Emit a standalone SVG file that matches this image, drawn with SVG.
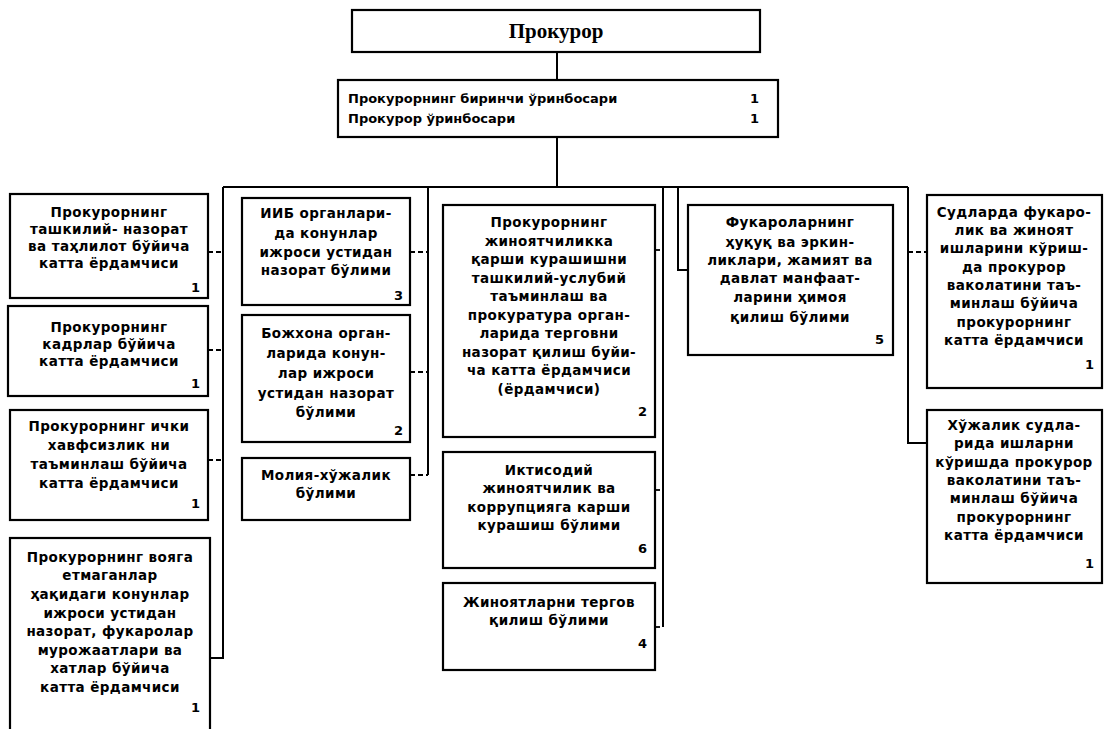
<svg xmlns="http://www.w3.org/2000/svg" width="1109" height="729" viewBox="0 0 1109 729">
<style>
.bg{fill:#fff}
.box{fill:#fff;stroke:#000;stroke-width:2.2}
.ln{fill:none;stroke:#000;stroke-width:2}
.tk{fill:none;stroke:#000;stroke-width:1.8;stroke-dasharray:5 3}
.t{font-family:"DejaVu Sans","Liberation Sans",sans-serif;font-weight:bold;font-size:13.5px;fill:#000;text-anchor:middle;letter-spacing:0.4px}
.n{font-family:"DejaVu Sans","Liberation Sans",sans-serif;font-weight:bold;font-size:13px;fill:#000;text-anchor:end}
.d{font-family:"DejaVu Sans","Liberation Sans",sans-serif;font-weight:bold;font-size:13px;fill:#000}
.title{font-family:"Liberation Serif","DejaVu Serif",serif;font-weight:bold;font-size:21px;fill:#000;text-anchor:middle}
</style>
<rect class="bg" x="0" y="0" width="1109" height="729"/>
<g id="connectors">
<line class="ln" x1="557" y1="52" x2="557" y2="80"/>
<line class="ln" x1="557" y1="137" x2="557" y2="187"/>
<line class="ln" x1="223" y1="187" x2="908" y2="187"/>
<polyline class="ln" points="223,187 223,658 208,658"/>
<line class="ln" x1="428" y1="187" x2="428" y2="475"/>
<line class="ln" x1="663" y1="187" x2="663" y2="627"/>
<polyline class="ln" points="678,187 678,270 688,270"/>
<polyline class="ln" points="908,187 908,443 927,443"/>
<line class="tk" x1="208" y1="252" x2="223" y2="252"/>
<line class="tk" x1="208" y1="350" x2="223" y2="350"/>
<line class="tk" x1="208" y1="460" x2="223" y2="460"/>
<line class="tk" x1="410" y1="252" x2="428" y2="252"/>
<line class="tk" x1="410" y1="372" x2="428" y2="372"/>
<line class="tk" x1="410" y1="475" x2="428" y2="475"/>
<line class="tk" x1="655" y1="250" x2="663" y2="250"/>
<line class="tk" x1="655" y1="490" x2="663" y2="490"/>
<line class="tk" x1="655" y1="627" x2="663" y2="627"/>
<line class="tk" x1="908" y1="252" x2="927" y2="252"/>
</g>
<g id="prokuror">
<rect class="box" x="352" y="10" width="408" height="42"/>
<text class="title" x="556" y="38">Прокурор</text>
</g>
<g id="deputies">
<rect class="box" x="338" y="80" width="440" height="57"/>
<text class="d" x="348" y="103">Прокурорнинг биринчи ўринбосари</text>
<text class="d" x="348" y="123">Прокурор ўринбосари</text>
<text class="d" x="750" y="103">1</text>
<text class="d" x="750" y="123">1</text>
</g>
<g id="l1">
<rect class="box" x="10" y="194" width="198" height="104"/>
<text class="t" x="109" y="217">Прокурорнинг</text>
<text class="t" x="109" y="234">ташкилий- назорат</text>
<text class="t" x="109" y="251">ва таҳлилот бўйича</text>
<text class="t" x="109" y="268">катта ёрдамчиси</text>
<text class="n" x="200" y="292">1</text>
</g>
<g id="l2">
<rect class="box" x="8" y="306" width="200" height="90"/>
<text class="t" x="109" y="332">Прокурорнинг</text>
<text class="t" x="109" y="349">кадрлар бўйича</text>
<text class="t" x="109" y="366">катта ёрдамчиси</text>
<text class="n" x="200" y="388">1</text>
</g>
<g id="l3">
<rect class="box" x="10" y="410" width="198" height="110"/>
<text class="t" x="109" y="431">Прокурорнинг ички</text>
<text class="t" x="109" y="450">хавфсизлик ни</text>
<text class="t" x="109" y="469">таъминлаш бўйича</text>
<text class="t" x="109" y="488">катта ёрдамчиси</text>
<text class="n" x="200" y="508">1</text>
</g>
<g id="l4">
<rect class="box" x="10" y="538" width="200" height="200"/>
<text class="t" x="110" y="562">Прокурорнинг вояга</text>
<text class="t" x="110" y="580">етмаганлар</text>
<text class="t" x="110" y="599">ҳақидаги конунлар</text>
<text class="t" x="110" y="618">ижроси устидан</text>
<text class="t" x="110" y="636">назорат, фукаролар</text>
<text class="t" x="110" y="655">мурожаатлари ва</text>
<text class="t" x="110" y="673">хатлар бўйича</text>
<text class="t" x="110" y="692">катта ёрдамчиси</text>
<text class="n" x="200" y="712">1</text>
</g>
<g id="b1">
<rect class="box" x="242" y="198" width="168" height="107"/>
<text class="t" x="326" y="218">ИИБ органлари-</text>
<text class="t" x="326" y="238">да конунлар</text>
<text class="t" x="326" y="257">ижроси устидан</text>
<text class="t" x="326" y="275">назорат бўлими</text>
<text class="n" x="403" y="300">3</text>
</g>
<g id="b2">
<rect class="box" x="242" y="315" width="168" height="127"/>
<text class="t" x="326" y="338">Божхона орган-</text>
<text class="t" x="326" y="358">ларида конун-</text>
<text class="t" x="326" y="378">лар ижроси</text>
<text class="t" x="326" y="398">устидан назорат</text>
<text class="t" x="326" y="417">бўлими</text>
<text class="n" x="403" y="435">2</text>
</g>
<g id="b3">
<rect class="box" x="242" y="458" width="168" height="62"/>
<text class="t" x="326" y="480">Молия-хўжалик</text>
<text class="t" x="326" y="498">бўлими</text>
</g>
<g id="m1">
<rect class="box" x="443" y="205" width="212" height="232"/>
<text class="t" x="549" y="227">Прокурорнинг</text>
<text class="t" x="549" y="246">жиноятчиликка</text>
<text class="t" x="549" y="264">қарши курашишни</text>
<text class="t" x="549" y="283">ташкилий-услубий</text>
<text class="t" x="549" y="301">таъминлаш ва</text>
<text class="t" x="549" y="320">прокуратура орган-</text>
<text class="t" x="549" y="338">ларида терговни</text>
<text class="t" x="549" y="357">назорат қилиш буйи-</text>
<text class="t" x="549" y="375">ча катта ёрдамчиси</text>
<text class="t" x="549" y="394">(ёрдамчиси)</text>
<text class="n" x="647" y="416">2</text>
</g>
<g id="m2">
<rect class="box" x="443" y="452" width="212" height="116"/>
<text class="t" x="549" y="475">Иктисодий</text>
<text class="t" x="549" y="493">жиноятчилик ва</text>
<text class="t" x="549" y="512">коррупцияга карши</text>
<text class="t" x="549" y="530">курашиш бўлими</text>
<text class="n" x="647" y="553">6</text>
</g>
<g id="m3">
<rect class="box" x="443" y="583" width="212" height="87"/>
<text class="t" x="549" y="607">Жиноятларни тергов</text>
<text class="t" x="549" y="625">қилиш бўлими</text>
<text class="n" x="647" y="648">4</text>
</g>
<g id="f">
<rect class="box" x="688" y="205" width="205" height="150"/>
<text class="t" x="790" y="227">Фукароларнинг</text>
<text class="t" x="790" y="247">ҳуқуқ ва эркин-</text>
<text class="t" x="790" y="265">ликлари, жамият ва</text>
<text class="t" x="790" y="283">давлат манфаат-</text>
<text class="t" x="790" y="302">ларини ҳимоя</text>
<text class="t" x="790" y="322">қилиш бўлими</text>
<text class="n" x="884" y="344">5</text>
</g>
<g id="s1">
<rect class="box" x="927" y="195" width="175" height="193"/>
<text class="t" x="1014" y="217">Судларда фукаро-</text>
<text class="t" x="1014" y="235">лик ва жиноят</text>
<text class="t" x="1014" y="253">ишларини кўриш-</text>
<text class="t" x="1014" y="272">да прокурор</text>
<text class="t" x="1014" y="290">ваколатини таъ-</text>
<text class="t" x="1014" y="308">минлаш бўйича</text>
<text class="t" x="1014" y="327">прокурорнинг</text>
<text class="t" x="1014" y="345">катта ёрдамчиси</text>
<text class="n" x="1094" y="369">1</text>
</g>
<g id="s2">
<rect class="box" x="927" y="410" width="175" height="173"/>
<text class="t" x="1014" y="430">Хўжалик судла-</text>
<text class="t" x="1014" y="448">рида ишларни</text>
<text class="t" x="1014" y="467">кўришда прокурор</text>
<text class="t" x="1014" y="485">ваколатини таъ-</text>
<text class="t" x="1014" y="503">минлаш бўйича</text>
<text class="t" x="1014" y="522">прокурорнинг</text>
<text class="t" x="1014" y="540">катта ёрдамчиси</text>
<text class="n" x="1094" y="568">1</text>
</g>
</svg>
